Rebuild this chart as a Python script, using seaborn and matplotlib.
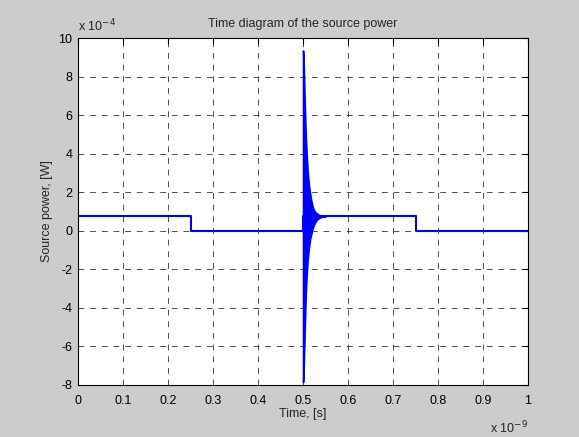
import numpy as np
import pandas as pd
import seaborn as sns
import matplotlib.pyplot as plt

# time in units of 1e-9 s, power in units of 1e-4 W
step_t = [0.0, 0.25, 0.25, 0.5, 0.5, 0.75, 0.75, 1.0]
step_p = [0.75, 0.75, 0.0, 0.0, 0.75, 0.75, 0.0, 0.0]

# envelope of the oscillation burst after the switch at t = 0.5
burst_t = [0.500, 0.501, 0.502, 0.504, 0.506, 0.508, 0.510, 0.512, 0.514, 0.516,
           0.518, 0.520, 0.522, 0.525, 0.528, 0.532, 0.536, 0.540, 0.545, 0.550]
burst_hi = [9.35, 9.0, 8.2, 6.5, 5.0, 4.0, 3.2, 2.6, 2.2, 1.9,
            1.6, 1.4, 1.2, 1.05, 0.95, 0.88, 0.82, 0.79, 0.77, 0.75]
burst_lo = [-7.85, -7.5, -6.6, -5.0, -3.3, -2.3, -1.6, -1.1, -0.7, -0.4,
            -0.2, 0.0, 0.2, 0.35, 0.5, 0.6, 0.67, 0.71, 0.73, 0.75]

xticks = [0, 0.1, 0.2, 0.3, 0.4, 0.5, 0.6, 0.7, 0.8, 0.9, 1]
yticks = [-8, -6, -4, -2, 0, 2, 4, 6, 8, 10]

sns.set_style("white")
plt.rcParams['font.family'] = ['Liberation Sans', 'DejaVu Sans']

fig = plt.figure(figsize=(5.79, 4.37), dpi=100, facecolor='#cccccc')
ax = fig.add_axes([0.1347, 0.119, 0.7773, 0.794])
ax.set_facecolor('white')

df = pd.DataFrame({"t": step_t, "p": step_p})
sns.lineplot(x="t", y="p", data=df, estimator=None, sort=False, color='blue', linewidth=1.5, ax=ax)
ax.fill_between(burst_t, burst_lo, burst_hi, color='blue', linewidth=1.2, edgecolor='blue')

ax.set_xlim(0, 1)
ax.set_ylim(-8, 10)
ax.set_xticks(xticks)
ax.set_xticklabels([f"{v:g}" for v in xticks])
ax.set_yticks(yticks)
ax.set_yticklabels([f"{v:g}" for v in yticks])
ax.tick_params(direction='in', length=4, width=0.8, top=True, right=True, labelsize=9, colors='black', pad=4)
ax.tick_params(axis='x', pad=7)
for s in ax.spines.values():
    s.set_visible(True)
    s.set_color('black')
    s.set_linewidth(0.8)

ax.grid(True, color='#333333', linestyle=(0, (7, 7)), linewidth=0.6)

ax.set_title("Time diagram of the source power", fontsize=9, pad=8)
ax.set_xlabel("Time, [s]", fontsize=9, labelpad=1)
ax.set_ylabel("Source power, [W]", fontsize=9, labelpad=4)
ax.text(0.0, 1.012, r"x 10$^{-4}$", transform=ax.transAxes, fontsize=9, ha='left', va='bottom')
ax.text(1.0, -0.1, r"x 10$^{-9}$", transform=ax.transAxes, fontsize=9, ha='right', va='top')

fig.savefig("out.png", dpi=100, facecolor=fig.get_facecolor())
